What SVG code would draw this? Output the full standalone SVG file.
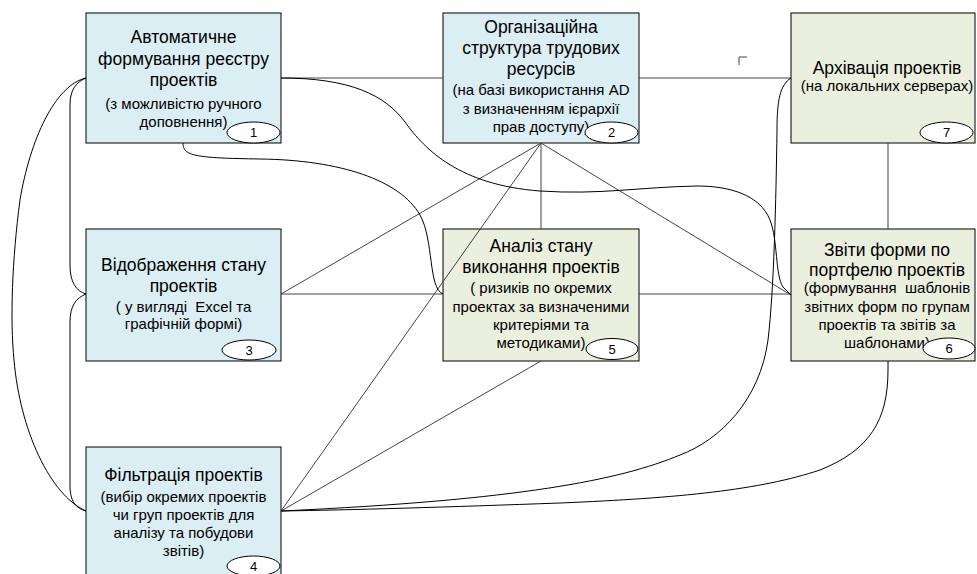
<svg xmlns="http://www.w3.org/2000/svg" width="977" height="574" viewBox="0 0 977 574">
<style>
.blue{fill:#DAEEF3;stroke:#000;stroke-width:1}
.green{fill:#EBEFDD;stroke:#000;stroke-width:1}
.big{font-family:"Liberation Sans",Arial,sans-serif;font-size:17.5px;fill:#000;text-anchor:middle}
.small{font-family:"Liberation Sans",Arial,sans-serif;font-size:15px;fill:#000;text-anchor:middle;white-space:pre}
.num{font-family:"Liberation Sans",Arial,sans-serif;font-size:13px;fill:#000;text-anchor:middle}
.oval{fill:#fff;stroke:#000;stroke-width:1}
.ln{fill:none;stroke:#444;stroke-width:1}
.cv{fill:none;stroke:#000;stroke-width:1}
</style>
<rect width="977" height="574" fill="#fff"/>
<g id="n1">
<rect class="blue" x="86" y="13" width="195" height="130"/>
<text class="big" x="183.5" y="43">Автоматичне</text>
<text class="big" x="183.5" y="64.5">формування реєстру</text>
<text class="big" x="183.5" y="86">проектів</text>
<text class="small" x="183.5" y="109">(з можливістю ручного</text>
<text class="small" x="183.5" y="127">доповнення)</text>
<ellipse class="oval" cx="253.5" cy="132.5" rx="26.5" ry="10.5"/>
<text class="num" x="253.5" y="137">1</text>
</g>
<g id="n2">
<rect class="blue" x="443" y="13" width="196" height="130"/>
<text class="big" x="541" y="33">Організаційна</text>
<text class="big" x="541" y="54">структура трудових</text>
<text class="big" x="541" y="75">ресурсів</text>
<text class="small" x="541" y="95">(на базі використання AD</text>
<text class="small" x="541" y="113.5">з визначенням ієрархії</text>
<text class="small" x="541" y="132">прав доступу)</text>
<ellipse class="oval" cx="611.5" cy="132.5" rx="26.5" ry="10.5"/>
<text class="num" x="611.5" y="137">2</text>
</g>
<g id="n7">
<rect class="green" x="791" y="13" width="184" height="130"/>
<text class="big" x="887" y="74">Архівація проектів</text>
<text class="small" x="887" y="91">(на локальних серверах)</text>
<ellipse class="oval" cx="946.5" cy="132.5" rx="26.5" ry="10.5"/>
<text class="num" x="946.5" y="137">7</text>
</g>
<g id="n3">
<rect class="blue" x="86" y="229" width="195" height="132"/>
<text class="big" x="183.5" y="271">Відображення стану</text>
<text class="big" x="183.5" y="292">проектів</text>
<text class="small" x="183.5" y="312">( у вигляді  Excel та</text>
<text class="small" x="183.5" y="329">графічній формі)</text>
<ellipse class="oval" cx="249" cy="350" rx="27" ry="10"/>
<text class="num" x="249" y="354.5">3</text>
</g>
<g id="n5">
<rect class="green" x="443" y="229" width="196" height="132"/>
<text class="big" x="541" y="252">Аналіз стану</text>
<text class="big" x="541" y="273">виконання проектів</text>
<text class="small" x="541" y="293">( ризиків по окремих</text>
<text class="small" x="541" y="312">проектах за визначеними</text>
<text class="small" x="541" y="330">критеріями та</text>
<text class="small" x="541" y="348">методиками)</text>
<ellipse class="oval" cx="612" cy="349" rx="26" ry="10.5"/>
<text class="num" x="612" y="353.5">5</text>
</g>
<g id="n6">
<rect class="green" x="791" y="229" width="184" height="132"/>
<text class="big" x="887" y="256">Звіти форми по</text>
<text class="big" x="887" y="276">портфелю проектів</text>
<text class="small" x="887" y="293">(формування  шаблонів</text>
<text class="small" x="887" y="312">звітних форм по групам</text>
<text class="small" x="887" y="330">проектів та звітів за</text>
<text class="small" x="887" y="348">шаблонами)</text>
<ellipse class="oval" cx="949" cy="348.5" rx="26" ry="10.5"/>
<text class="num" x="949" y="353">6</text>
</g>
<g id="n4">
<rect class="blue" x="86" y="447" width="195" height="131"/>
<text class="big" x="183.5" y="481">Фільтрація проектів</text>
<text class="small" x="183.5" y="502">(вибір окремих проектів</text>
<text class="small" x="183.5" y="520">чи груп проектів для</text>
<text class="small" x="183.5" y="538">аналізу та побудови</text>
<text class="small" x="183.5" y="556">звітів)</text>
<ellipse class="oval" cx="253.5" cy="566" rx="26.5" ry="10"/>
<text class="num" x="253.5" y="570.5">4</text>
</g>
<g id="connectors">
<path class="ln" d="M281,78 L443,78 M639,78 L791,78"/>
<path class="ln" d="M281,294 L443,294 M639,294 L791,294"/>
<path class="ln" d="M541,143 L281,294"/>
<path class="ln" d="M541,143 L281,511"/>
<path class="ln" d="M541,143 L541,229"/>
<path class="ln" d="M541,143 L791,295"/>
<path class="ln" d="M541,361 L281,511"/>
<path class="ln" d="M888,143 L888,229"/>
<path class="ln" d="M739,65 L739,57 L747,57"/>
<path class="cv" d="M183,143 C183,156 195,158 260,159 C340,160 400,180 420,215 C434,240 428,288 443,294"/>
<path class="cv" d="M281,78 C350,78 385,95 405,122 C425,150 460,185 540,191 C600,195 640,187 697,186 C730,186 760,195 770,220 C778,240 775,275 783,287 L791,295"/>
<path class="cv" d="M791,78 C780,85 777,100 777,130 C776,200 774,290 768,340 C760,400 720,440 680,455 C620,480 520,500 281,511"/>
<path class="cv" d="M888,361 L888,370 C888,420 870,450 820,470 C760,490 680,498 560,503 C450,507 350,510 281,511"/>
<path class="cv" d="M86,78 C76,82 70,90 70,105 L70,265 C70,282 76,291 86,294"/>
<path class="cv" d="M86,294 C76,298 70,306 70,322 L70,485 C70,502 76,508 86,511"/>
<path class="cv" d="M86,78 C55,85 30,140 20,200 C12,260 10,320 14,360 C20,430 50,495 86,511"/>
</g>
</svg>
